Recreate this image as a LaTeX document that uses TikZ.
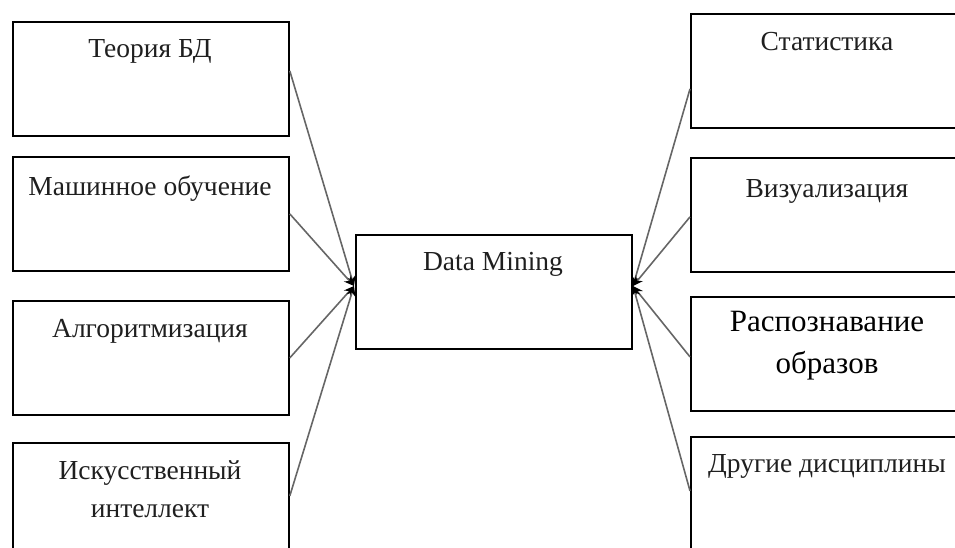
\documentclass[tikz,border=0pt]{standalone}
\usepackage{fontspec}
\setmainfont{Liberation Serif}
\usetikzlibrary{arrows.meta}
\begin{document}
\begin{tikzpicture}[x=1pt,y=-1pt,
  box/.style={draw=black,line width=1.8pt,rectangle,minimum width=276pt,minimum height=114pt,inner sep=0pt,anchor=north west},
  lbl/.style={text=black!88,inner sep=0pt,font=\fontsize{27.5}{38}\selectfont,align=center},
  lblb/.style={text=black,inner sep=0pt,font=\fontsize{31}{42}\selectfont,align=center},
  conn/.style={draw=black!60,line width=1.6pt,-{Stealth[length=10pt,width=9pt,black]}}]
\useasboundingbox (0,0) rectangle (955,548);
\clip (0,0) rectangle (955,548);
% left boxes
\node[box] (l1) at (12,21) {};
\node[box] (l2) at (12,156) {};
\node[box] (l3) at (12,300) {};
\node[box] (l4) at (12,442) {};
% right boxes
\node[box] (r1) at (690,13) {};
\node[box] (r2) at (690,157) {};
\node[box] (r3) at (690,296) {};
\node[box] (r4) at (690,436) {};
% centre
\node[box] (dm) at (355,234) {};
% texts
\node[lbl] (t1) at (150,51) {Теория БД};
\node[lbl] (t2) at (150,189) {Машинное обучение};
\node[lbl] (t3) at (150,331) {Алгоритмизация};
\node[lbl] (t4) at (150,489) {Искусственный\\интеллект};
\node[lbl] (s1) at (827,42) {Статистика};
\node[lbl] (s2) at (827,191) {Визуализация};
\node[lblb] (s3) at (827,346) {Распознавание\\образов};
\node[lbl] (s4) at (827,466) {Другие дисциплины};
\node[lbl] (tdm) at (493,264) {Data Mining};
% convergence points
\coordinate (cl) at (354,286);
\coordinate (cr) at (633,286);
% connectors
\draw[conn] ([yshift=8pt]l1.east) -- (cl);
\draw[conn] (l2.east) -- (cl);
\draw[conn] (l3.east) -- (cl);
\draw[conn] ([yshift=4pt]l4.east) -- (cl);
\draw[conn] ([yshift=-18pt]r1.west) -- (cr);
\draw[conn] ([yshift=-2pt]r2.west) -- (cr);
\draw[conn] ([yshift=-3pt]r3.west) -- (cr);
\draw[conn] ([yshift=3pt]r4.west) -- (cr);
\end{tikzpicture}
\end{document}
